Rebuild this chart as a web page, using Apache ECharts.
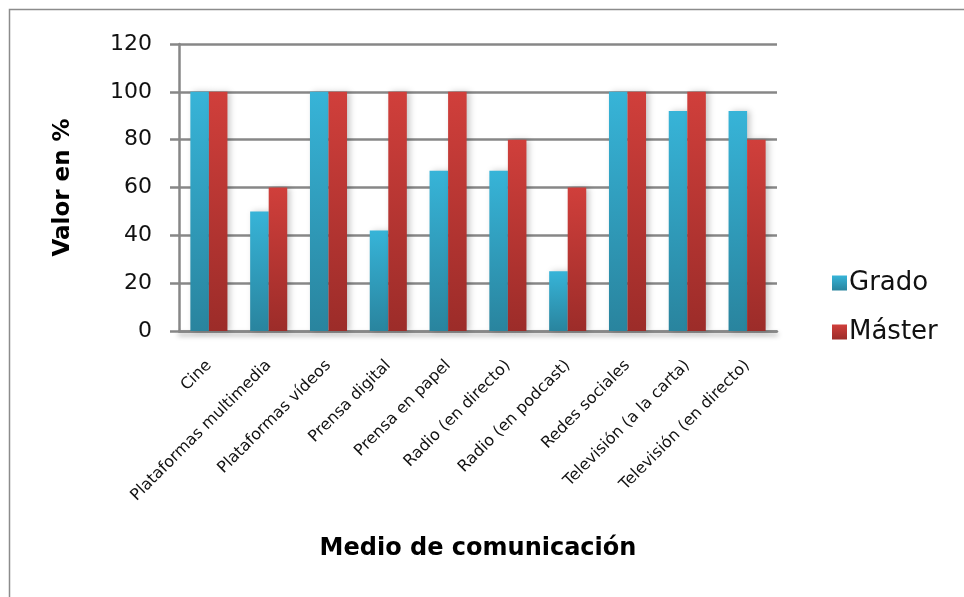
<!DOCTYPE html>
<html>
<head>
<meta charset="utf-8">
<script src="https://cdn.jsdelivr.net/npm/echarts@6/dist/echarts.min.js"></script>
<style>
  html, body { margin: 0; padding: 0; background: #ffffff; }
  #chart { width: 964px; height: 597px; }
</style>
</head>
<body>
<div id="chart"></div>
<script>
// Medios de comunicación utilizados, en % (Grado vs. Máster)
const categories = [
  'Cine',
  'Plataformas multimedia',
  'Plataformas vídeos',
  'Prensa digital',
  'Prensa en papel',
  'Radio (en directo)',
  'Radio (en podcast)',
  'Redes sociales',
  'Televisión (a la carta)',
  'Televisión (en directo)'
];
const gradoValues  = [100, 50, 100, 42, 67, 67, 25, 100, 92, 92];
const masterValues = [100, 60, 100, 100, 100, 80, 60, 100, 100, 80];
const seriesNames  = ['Grado', 'Máster'];
const yTicks = { min: 0, max: 120, interval: 20 };

const FONT = '"DejaVu Sans", sans-serif';
const GRID_GRAY = '#878787';

function vGrad(top, bottom) {
  return new echarts.graphic.LinearGradient(0, 0, 0, 1, [
    { offset: 0, color: top },
    { offset: 1, color: bottom }
  ]);
}

const chart = echarts.init(document.getElementById('chart'), null, { renderer: 'canvas' });

const barShadow = {
  shadowColor: 'rgba(0,0,0,0.22)',
  shadowBlur: 6,
  shadowOffsetX: 3,
  shadowOffsetY: 0
};

chart.setOption({
  animation: false,
  backgroundColor: '#ffffff',
  graphic: [{
    type: 'rect',
    left: 7, top: 7,
    shape: { width: 1000, height: 1000 },
    style: { fill: 'none', stroke: '#8c8c8c', lineWidth: 1.5 },
    silent: true
  }],
  grid: { left: 179, right: 187, top: 44, bottom: 266 },
  legend: {
    orient: 'vertical',
    left: 827,
    top: 265,
    itemWidth: 15,
    itemHeight: 15,
    itemGap: 23,
    icon: 'rect',
    textStyle: { fontFamily: FONT, fontSize: 26, color: '#111111', padding: [0, 0, 0, -3] },
    data: seriesNames
  },
  xAxis: {
    type: 'category',
    data: categories,
    name: 'Medio de comunicación',
    nameLocation: 'middle',
    nameGap: 206,
    nameTextStyle: { fontFamily: FONT, fontWeight: 'bold', fontSize: 24, color: '#000000' },
    axisLine: {
      lineStyle: { color: GRID_GRAY, width: 2.5, shadowColor: 'rgba(0,0,0,0.35)', shadowBlur: 5, shadowOffsetY: 3 }
    },
    axisTick: { show: false },
    axisLabel: {
      interval: 0,
      rotate: 45,
      margin: 32,
      fontFamily: FONT,
      fontSize: 16,
      color: '#111111'
    }
  },
  yAxis: {
    type: 'value',
    min: yTicks.min,
    max: yTicks.max,
    interval: yTicks.interval,
    name: 'Valor en %',
    nameLocation: 'middle',
    nameGap: 104,
    nameRotate: 90,
    nameTextStyle: { fontFamily: FONT, fontWeight: 'bold', fontSize: 23, color: '#000000' },
    axisLine: { show: true, lineStyle: { color: GRID_GRAY, width: 2.5 } },
    axisTick: { show: true, inside: false, length: 9, lineStyle: { color: GRID_GRAY, width: 2.5 } },
    axisLabel: { margin: 27, fontFamily: FONT, fontSize: 22, color: '#111111' },
    splitLine: { show: true, lineStyle: { color: GRID_GRAY, width: 2.5 } }
  },
  series: [
    {
      name: seriesNames[0],
      type: 'bar',
      data: gradoValues,
      barWidth: '31%',
      barGap: '0%',
      itemStyle: Object.assign({ color: vGrad('#37b4d8', '#29849e') }, barShadow)
    },
    {
      name: seriesNames[1],
      type: 'bar',
      data: masterValues,
      barWidth: '31%',
      itemStyle: Object.assign({ color: vGrad('#d03f3b', '#9c2c29') }, barShadow)
    }
  ]
});
</script>
</body>
</html>
